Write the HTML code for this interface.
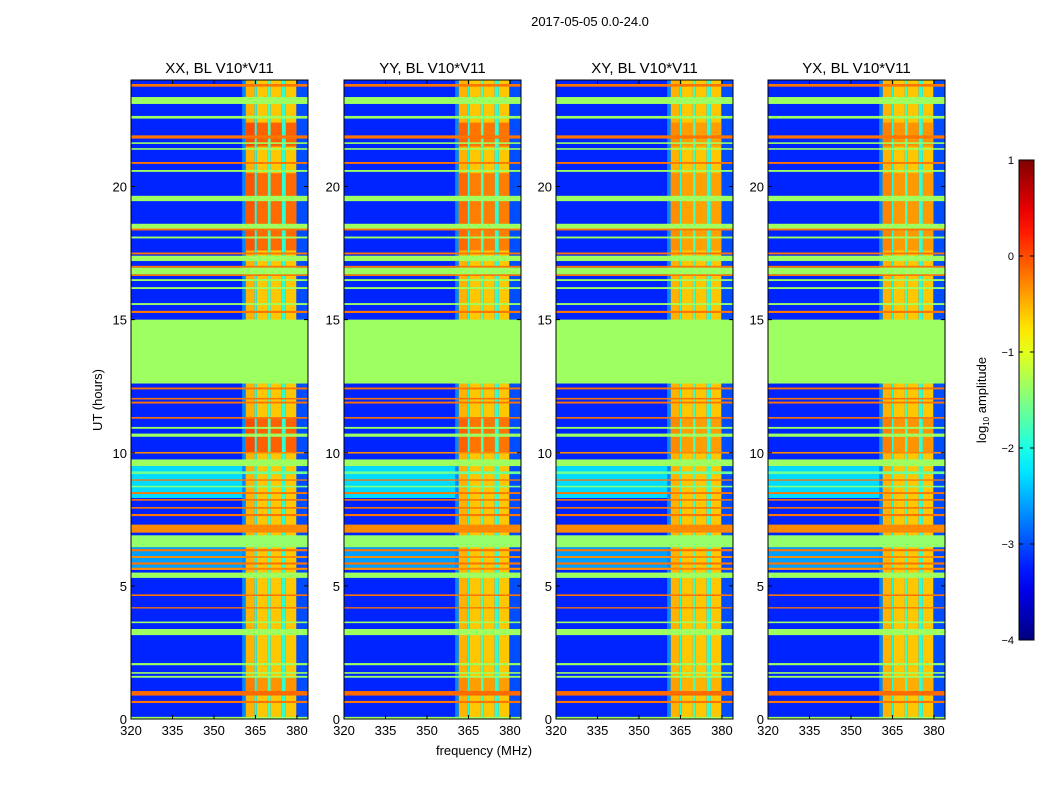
<!DOCTYPE html>
<html><head><meta charset="utf-8">
<style>
html,body{margin:0;padding:0;background:#fff;}
svg{display:block;font-family:"Liberation Sans","DejaVu Sans",sans-serif;}
</style></head>
<body>
<svg id="fig" width="1050" height="800" viewBox="0 0 1050 800">
<rect x="0" y="0" width="1050" height="800" fill="#fff"/>
<text x="590" y="26" font-size="13" text-anchor="middle">2017-05-05 0.0-24.0</text>
<text transform="translate(102,400) rotate(-90)" font-size="13" text-anchor="middle">UT (hours)</text>
<text x="484" y="755" font-size="13" text-anchor="middle">frequency (MHz)</text>
<g id="panels"></g>
<g id="cbar"></g>
</svg>
<script>
// ---- chart data ----
const panelTitles = ["XX, BL V10*V11","YY, BL V10*V11","XY, BL V10*V11","YX, BL V10*V11"];
const panelLefts = [131,344,556,768];
const xTicks = [320,335,350,365,380];
const yTicks = [0,5,10,15,20];
const cbTicks = [1,0,-1,-2,-3,-4];
const backgroundLevel = -3.2;
// frequency columns (MHz start, end, log10 amplitude)
const colStart = [360.2,361.5,364.7,365.5,369.5,370.5,374.5,376.0,379.8];
const colEnd   = [361.5,364.7,365.5,369.5,370.5,374.5,376.0,379.8,384.0];
const colLevel = [-2.7,-0.5,-2.0,-0.6,-1.8,-0.6,-1.9,-0.6,-3.0];
// hot periods (hours) where RFI columns brighten
const hotStart = [17.6,10.0,1.0,21.5];
const hotEnd   = [20.5,11.3,1.6,22.4];
const hotBoost = [0.45,0.5,0.25,0.5];
const panelHotScale = [1.0,0.8,0.4,0.5];
// horizontal time bands (hours start, end, level)
const bandStart = [23.75,23.1,22.55,21.8,21.6,21.38,20.85,20.55,19.45,18.37,18.35,18.05,17.45,17.2,16.95,16.7,16.64,16.45,16.15,15.55,15.25,12.6,12.38,12.0,11.85,11.28,10.9,10.6,9.97,9.5,9.2,8.95,8.7,8.45,8.2,7.9,7.62,7.0,6.45,6.3,6.05,5.8,5.6,5.3,4.62,4.15,3.6,3.15,2.02,1.7,1.55,0.88,0.6,0.0];
const bandEnd   = [23.85,23.36,22.65,21.92,21.66,21.44,20.92,20.62,19.65,18.6,18.42,18.12,17.52,17.4,17.02,16.95,16.7,16.52,16.22,15.62,15.33,15.0,12.45,12.06,11.92,11.34,10.97,10.72,10.03,9.75,9.3,9.0,8.76,8.52,8.26,7.96,7.7,7.3,6.9,6.38,6.12,5.88,5.68,5.5,4.68,4.2,3.66,3.38,2.1,1.76,1.62,1.05,0.68,0.08];
const bandLevel = [-0.2,-1.35,-1.35,-0.2,-1.35,-1.35,-0.2,-1.35,-1.35,-1.35,-0.2,-1.35,-0.2,-1.35,-0.2,-1.35,-0.2,-1.35,-1.35,-1.35,-0.2,-1.35,-0.2,-0.2,-0.2,-0.2,-1.35,-1.35,-0.3,-1.35,-1.6,-0.2,-1.5,-0.2,-0.2,-0.2,-0.2,-0.3,-1.4,-0.2,-0.3,-0.2,-0.3,-1.35,-0.2,-0.2,-1.35,-1.35,-1.35,-1.35,-1.35,-0.15,-0.2,-1.35];
// mixed zone background (hours) with cyan-ish level
const mixStart = [8.3,5.6];
const mixEnd   = [9.5,6.45];
const mixLevel = [-2.3,-2.6];

// ---- helpers ----
function jet(v){
  let x=(v+4)/5; x=Math.max(0,Math.min(1,x));
  const c=t=>Math.round(255*Math.max(0,Math.min(1,1.5-Math.abs(4*x-t))));
  return `rgb(${c(3)},${c(2)},${c(1)})`;
}
const NS="http://www.w3.org/2000/svg";
function mk(tag,attrs,parent){const e=document.createElementNS(NS,tag);for(const k in attrs)e.setAttribute(k,attrs[k]);parent.appendChild(e);return e;}
const axTop=80,axBot=719,W=177,fMin=320,fMax=384,tMax=24;
const yS=h=>axBot-(h/tMax)*(axBot-axTop);
const panelsG=document.getElementById('panels');

panelTitles.forEach((title,p)=>{
  const L=panelLefts[p];
  const xS=f=>L+(f-fMin)/(fMax-fMin)*W;
  const g=mk('g',{},panelsG);
  
  
  const bg=mk('rect',{x:L,y:axTop,width:W,height:axBot-axTop,fill:jet(backgroundLevel)},g);
  
  
  for(let i=0;i<mixStart.length;i++){
    const r=mk('rect',{x:L,y:yS(mixEnd[i]),width:W,height:yS(mixStart[i])-yS(mixEnd[i]),fill:jet(mixLevel[i])},g);
    
    
  }
  for(let i=0;i<colStart.length;i++){
    const r=mk('rect',{x:xS(colStart[i]),y:axTop,width:xS(colEnd[i])-xS(colStart[i]),height:axBot-axTop,fill:jet(colLevel[i])},g);
    
    
  }
  for(let h=0;h<hotStart.length;h++){
    for(let i=0;i<colStart.length;i++){
      if(colLevel[i]<=-1) continue;
      const lv=colLevel[i]+hotBoost[h]*panelHotScale[p];
      const r=mk('rect',{x:xS(colStart[i]),y:yS(hotEnd[h]),width:xS(colEnd[i])-xS(colStart[i]),height:yS(hotStart[h])-yS(hotEnd[h]),fill:jet(lv)},g);
      
      
    }
  }
  for(let i=0;i<bandStart.length;i++){
    const y1=yS(bandEnd[i]),y2=yS(bandStart[i]);
    const r=mk('rect',{x:L,y:y1,width:W,height:Math.max(1,y2-y1),fill:jet(bandLevel[i])},g);
    
    
  }
  const fr=mk('rect',{x:L,y:axTop,width:W,height:axBot-axTop,fill:'none',stroke:'#000','stroke-width':1},g);
  
  
  const t=mk('text',{x:L+W/2,y:73,'font-size':15,'text-anchor':'middle'},g);
  t.textContent=title;
  
  
  xTicks.forEach(v=>{
    const x=xS(v);
    mk('line',{x1:x,x2:x,y1:axBot,y2:axBot-4,stroke:'#000'},g);
    mk('line',{x1:x,x2:x,y1:axTop,y2:axTop+4,stroke:'#000'},g);
    const tl=mk('text',{x:x,y:axBot+16,'font-size':13,'text-anchor':'middle'},g);
    tl.textContent=v;
    
    
  });
  yTicks.forEach(v=>{
    const y=yS(v);
    mk('line',{x1:L,x2:L+4,y1:y,y2:y,stroke:'#000'},g);
    mk('line',{x1:L+W,x2:L+W-4,y1:y,y2:y,stroke:'#000'},g);
    const tl=mk('text',{x:L-4,y:y+5,'font-size':13,'text-anchor':'end'},g);
    tl.textContent=v;
    
    
  });
});

// colorbar
const cb=document.getElementById('cbar');
const cbX=1019,cbW=15,cbTop=160,cbBot=640;
const defs=mk('defs',{},cb);
const grad=mk('linearGradient',{id:'jetg',x1:0,y1:1,x2:0,y2:0},defs);
for(let i=0;i<=20;i++){mk('stop',{offset:(i/20),'stop-color':jet(-4+5*i/20)},grad);}
mk('rect',{x:cbX,y:cbTop,width:cbW,height:cbBot-cbTop,fill:'url(#jetg)',stroke:'#000'},cb);
const cbY=v=>cbBot-(v+4)/5*(cbBot-cbTop);
cbTicks.forEach(v=>{
  const y=cbY(v);
  mk('line',{x1:cbX,x2:cbX+4,y1:y,y2:y,stroke:'#000'},cb);
  mk('line',{x1:cbX+cbW,x2:cbX+cbW-4,y1:y,y2:y,stroke:'#000'},cb);
  const tl=mk('text',{x:cbX-5,y:y+4,'font-size':11,'text-anchor':'end'},cb);
  tl.textContent=(v<0?'\u2212'+(-v):v);
  
  
});
const lab=mk('text',{transform:'translate(986,400) rotate(-90)','font-size':13,'text-anchor':'middle'},cb);
lab.innerHTML='log<tspan font-size="8" dy="3">10</tspan><tspan dy="-3"> amplitude</tspan>';


</script>
</body></html>
